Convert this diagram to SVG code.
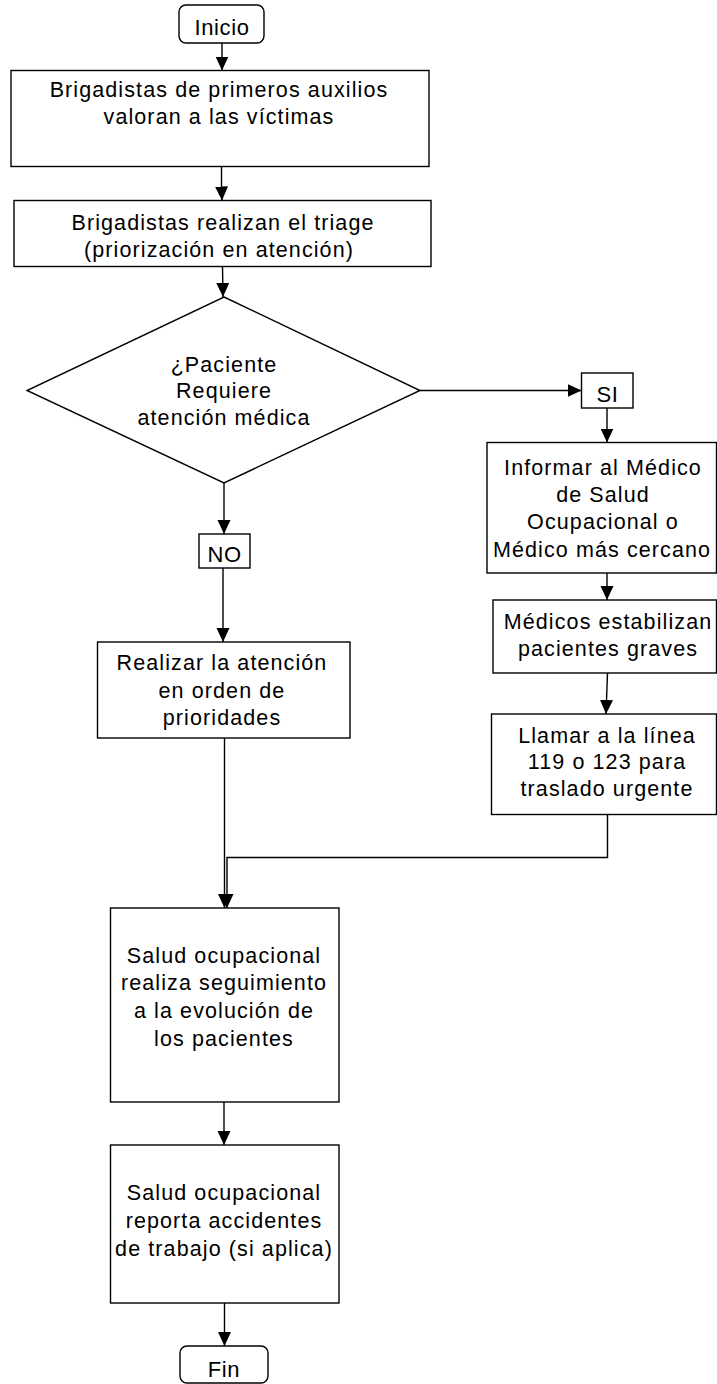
<svg xmlns="http://www.w3.org/2000/svg" width="717" height="1384" viewBox="0 0 717 1384">
<style>
.box{fill:#fff;stroke:#000;stroke-width:1.4}
.t{font-family:"Liberation Sans",Arial,sans-serif;font-size:21.5px;letter-spacing:1.1px;fill:#000;text-anchor:middle}
.lbl{font-family:"Liberation Sans",Arial,sans-serif;font-size:22px;letter-spacing:0.6px;fill:#000;text-anchor:middle}
.c{fill:none;stroke:#000;stroke-width:1.4}
</style>
<defs>
<marker id="ah" markerUnits="userSpaceOnUse" markerWidth="16" markerHeight="16" refX="14" refY="6.5" orient="auto">
<path d="M0,0 L14,6.5 L0,13 z" fill="#000"/>
</marker>
</defs>
<rect width="717" height="1384" fill="#fff"/>
<g id="connectors">
<path class="c" d="M222,43 L222,70.5" marker-end="url(#ah)"/>
<path class="c" d="M221.5,167 L221.5,185 L222,200.5" marker-end="url(#ah)"/>
<path class="c" d="M222.5,267 L223,297" marker-end="url(#ah)"/>
<path class="c" d="M420,390.5 L581.5,390.5" marker-end="url(#ah)"/>
<path class="c" d="M607,408 L607,442.5" marker-end="url(#ah)"/>
<path class="c" d="M607,573 L607,600" marker-end="url(#ah)"/>
<path class="c" d="M607.5,673 L606,714" marker-end="url(#ah)"/>
<path class="c" d="M224,483 L224,534" marker-end="url(#ah)"/>
<path class="c" d="M223,568 L223,642" marker-end="url(#ah)"/>
<path class="c" d="M224.5,738 L224.5,908" marker-end="url(#ah)"/>
<path class="c" d="M607.5,814 L607.5,857.5 L227,857.5 L227,908" marker-end="url(#ah)"/>
<path class="c" d="M224,1102 L224,1145" marker-end="url(#ah)"/>
<path class="c" d="M224.5,1303 L224.5,1346" marker-end="url(#ah)"/>
</g>
<g id="inicio">
<rect class="box" x="179" y="5" width="85" height="38" rx="7"/>
<text class="lbl" x="222" y="35">Inicio</text>
</g>
<g id="valoran">
<rect class="box" x="11" y="70.5" width="418" height="96"/>
<text class="t" x="219" y="97">Brigadistas de primeros auxilios</text>
<text class="t" x="219" y="124">valoran a las víctimas</text>
</g>
<g id="triage">
<rect class="box" x="14" y="200.5" width="417" height="66"/>
<text class="t" x="223" y="230">Brigadistas realizan el triage</text>
<text class="t" x="219" y="256.5">(priorización en atención)</text>
</g>
<g id="decision">
<polygon class="box" points="224,297 420,390.5 224,483 27,390.5"/>
<text class="t" x="224" y="371.5">¿Paciente</text>
<text class="t" x="224" y="398">Requiere</text>
<text class="t" x="224" y="425">atención médica</text>
</g>
<g id="si">
<rect class="box" x="581.5" y="373" width="51.5" height="35"/>
<text class="lbl" x="607.5" y="401.5">SI</text>
</g>
<g id="informar">
<rect class="box" x="487" y="442.5" width="229.5" height="130.5"/>
<text class="t" x="603" y="475">Informar al Médico</text>
<text class="t" x="603" y="502">de Salud</text>
<text class="t" x="603" y="529">Ocupacional o</text>
<text class="t" x="602" y="556.5">Médico más cercano</text>
</g>
<g id="estabilizan">
<rect class="box" x="493" y="600" width="223.5" height="73"/>
<text class="t" x="608" y="629">Médicos estabilizan</text>
<text class="t" x="608" y="655.5">pacientes graves</text>
</g>
<g id="llamar">
<rect class="box" x="491.5" y="714" width="225" height="100.5"/>
<text class="t" x="607" y="742.5">Llamar a la línea</text>
<text class="t" x="607" y="769">119 o 123 para</text>
<text class="t" x="607" y="796">traslado urgente</text>
</g>
<g id="no">
<rect class="box" x="199" y="534" width="51" height="34"/>
<text class="lbl" x="224.5" y="562">NO</text>
</g>
<g id="realizar">
<rect class="box" x="97.5" y="642" width="252.5" height="96"/>
<text class="t" x="222" y="670">Realizar  la atención</text>
<text class="t" x="222" y="698">en orden de</text>
<text class="t" x="222" y="725">prioridades</text>
</g>
<g id="seguimiento">
<rect class="box" x="110.5" y="908" width="228.5" height="194"/>
<text class="t" x="224" y="963">Salud ocupacional</text>
<text class="t" x="224" y="990">realiza seguimiento</text>
<text class="t" x="224" y="1018">a la evolución de</text>
<text class="t" x="224" y="1046">los pacientes</text>
</g>
<g id="reporta">
<rect class="box" x="110.5" y="1145" width="228.5" height="158"/>
<text class="t" x="224" y="1200">Salud ocupacional</text>
<text class="t" x="224" y="1228">reporta accidentes</text>
<text class="t" x="224" y="1256">de trabajo (si aplica)</text>
</g>
<g id="fin">
<rect class="box" x="180" y="1346" width="88" height="37" rx="7"/>
<text class="lbl" x="224" y="1377">Fin</text>
</g>
</svg>
